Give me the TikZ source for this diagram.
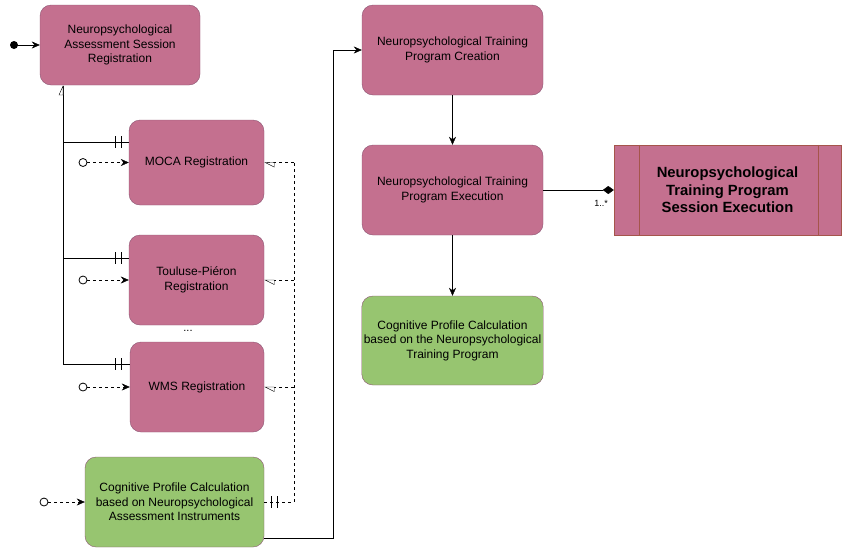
\documentclass[tikz,border=0pt]{standalone}
\usepackage{fontspec}
\setmainfont{Liberation Sans}
\usetikzlibrary{arrows.meta}
\definecolor{pinkf}{RGB}{196,112,143}
\definecolor{pinkd}{RGB}{140,85,115}
\definecolor{greenf}{RGB}{151,197,112}
\definecolor{sessd}{RGB}{165,85,75}
\begin{document}
\begin{tikzpicture}[x=1pt,y=-1pt,
  box/.style={draw=pinkd,fill=pinkf,rounded corners=11pt,align=center,font=\fontsize{12}{14.5}\selectfont,inner sep=2pt},
  gbox/.style={box,fill=greenf},
  arr/.style={-{Stealth[length=8pt,width=7pt]}},
  dsh/.style={dash pattern=on 3pt off 3pt},
  ocirc/.style={draw,fill=white,line width=0.8pt}]
\useasboundingbox (0,0) rectangle (846,555);
% boxes
\node[box,minimum width=160pt,minimum height=80pt] (A) at (120,45) {Neuropsychological\\Assessment Session\\Registration};
\node[box,minimum width=135pt,minimum height=85pt] (M) at (196.5,162.5) {MOCA Registration};
\node[box,minimum width=135pt,minimum height=90pt] (T) at (196.5,280) {Touluse-Piéron\\Registration};
\node[box,minimum width=134pt,minimum height=90pt] (W) at (197,387) {WMS Registration};
\node[gbox,minimum width=179pt,minimum height=90pt] (G) at (174.5,502) {Cognitive Profile Calculation\\based on Neuropsychological\\Assessment Instruments};
\node[box,minimum width=181pt,minimum height=90pt] (C) at (452.5,50) {Neuropsychological Training\\Program Creation};
\node[box,minimum width=181pt,minimum height=90pt] (E) at (452.5,190) {Neuropsychological Training\\Program Execution};
\node[gbox,minimum width=181pt,minimum height=89pt] (H) at (452.5,340.5) {Cognitive Profile Calculation\\based on the Neuropsychological\\Training Program};
\node[draw=sessd,fill=pinkf,minimum width=227pt,minimum height=90pt,align=center,font=\fontsize{14.8}{17.5}\selectfont\bfseries] (S) at (727.5,190) {Neuropsychological\\Training Program\\Session Execution};
\draw[sessd] ([xshift=25pt]S.north west) -- ([xshift=25pt]S.south west);
\draw[sessd] ([xshift=-23pt]S.north east) -- ([xshift=-23pt]S.south east);
\node[font=\fontsize{11}{12}\selectfont] (dots) at (188,331) {...};
% start
\coordinate (s) at (14,45);
\fill (s) circle (4);
\draw[arr] (s) -- (A.west);
% left trunk
\coordinate (tr) at (63,86);
\draw (tr) -- (63,364);
\draw[fill=white] (tr) -- ++(-4,9) -- ++(4,0) -- cycle;
\draw (63,142) -- ([yshift=20.5pt]M.west);
\draw (63,258) -- ([yshift=22pt]T.west);
\draw (63,364) -- ([yshift=23pt]W.west);
\foreach \yy in {142,258,364}{
  \draw (115,\yy-6) -- (115,\yy+6);
  \draw (121,\yy-6) -- (121,\yy+6);
}
% dashed incoming
\foreach \n/\xx in {M/83,T/83,W/83,G/44}{
  \coordinate (c\n) at (\xx,0 |- \n.west);
  \draw[dsh,arr] ([xshift=4pt]c\n) -- (\n.west);
  \draw[ocirc] (c\n) circle (4);
}
% right dashed trunk
\coordinate (rt) at (294,0 |- G.east);
\draw[dsh] (G.east) -- (rt) -- (294,0 |- M.east);
\foreach \n in {M,T,W}{
  \draw[dsh] (294,0 |- \n.east) -- (\n.east);
  \draw[fill=white] ([xshift=1pt]\n.east) -- ++(9,4.5) -- ++(0,-4.5) -- cycle;
}
\draw ([xshift=7pt]G.east) ++(0,-6) -- ++(0,12);
\draw ([xshift=13pt]G.east) ++(0,-6) -- ++(0,12);
% solid to creation
\draw[arr] ([yshift=9pt]G.south east) -- ++(69,0) |- (C.west);
\draw[arr] (C.south) -- (E.north);
\draw[arr] (E.south) -- (H.north);
\draw[-{Diamond[length=11pt,width=8pt]}] (E.east) -- (S.west);
\node[font=\fontsize{9}{10}\selectfont] (lab) at (601,203) {1..*};
\end{tikzpicture}
\end{document}
